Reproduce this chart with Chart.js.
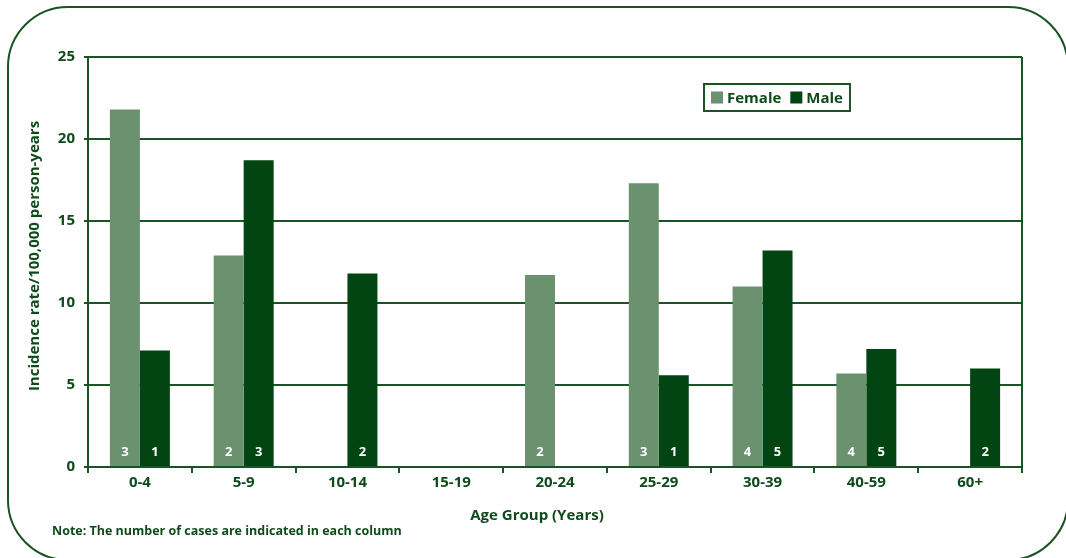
<!DOCTYPE html>
<html>
<head>
<meta charset="utf-8">
<script src="https://cdn.jsdelivr.net/npm/chart.js@4.4.1/dist/chart.umd.min.js"></script>
<style>
  html, body { margin: 0; padding: 0; background: #fff; }
  #wrap { width: 1066px; height: 558px; }
</style>
</head>
<body>
<div id="wrap"><canvas id="incidence" width="1066" height="558"></canvas></div>
<script>
const ageGroups = ['0-4', '5-9', '10-14', '15-19', '20-24', '25-29', '30-39', '40-59', '60+'];
const femaleRates = [21.8, 12.9, null, null, 11.7, 17.3, 11.0, 5.7, null];
const maleRates = [7.1, 18.7, 11.8, null, null, 5.6, 13.2, 7.2, 6.0];
const femaleCases = [3, 2, null, null, 2, 3, 4, 4, null];
const maleCases = [1, 3, 2, null, null, 1, 5, 5, 2];
const yTicks = [0, 5, 10, 15, 20, 25];

const FONT = "'Open Sans', 'Noto Sans', sans-serif";
const INK = '#0e4b1b';
const LINE = '#1b5424';
const FEMALE = '#6a926e';
const MALE = '#024512';

// rounded outer frame, right border of the plot, titles and footnote
const decorations = {
    id: 'decorations',
    beforeDraw(chart) {
        const ctx = chart.ctx;
        ctx.save();
        ctx.strokeStyle = LINE;
        ctx.lineWidth = 2;
        ctx.beginPath();
        ctx.roundRect(8, 7, 1060, 553, 60);
        ctx.stroke();
        ctx.restore();
    },
    afterDraw(chart) {
        const ctx = chart.ctx;
        const area = chart.chartArea;
        ctx.save();
        ctx.strokeStyle = LINE;
        ctx.lineWidth = 2;
        ctx.beginPath();
        ctx.moveTo(area.right, area.top);
        ctx.lineTo(area.right, area.bottom + 6);
        ctx.stroke();

        ctx.fillStyle = INK;
        ctx.textAlign = 'center';
        ctx.textBaseline = 'middle';
        ctx.font = 'bold 15px ' + FONT;
        ctx.fillText('Age Group (Years)', 537, 516);

        ctx.save();
        ctx.translate(35, 256);
        ctx.rotate(-Math.PI / 2);
        ctx.fillText('Incidence rate/100,000 person-years', 0, 0);
        ctx.restore();

        ctx.textAlign = 'left';
        ctx.font = 'bold 12.5px ' + FONT;
        ctx.fillText('Note: The number of cases are indicated in each column', 52, 531);
        ctx.restore();
    }
};

// case counts written near the foot of each bar
const caseLabels = {
    id: 'caseLabels',
    afterDatasetsDraw(chart) {
        const ctx = chart.ctx;
        const counts = [femaleCases, maleCases];
        ctx.save();
        ctx.fillStyle = '#ffffff';
        ctx.font = 'bold 13px ' + FONT;
        ctx.textAlign = 'center';
        ctx.textBaseline = 'middle';
        chart.data.datasets.forEach((ds, i) => {
            chart.getDatasetMeta(i).data.forEach((bar, j) => {
                const n = counts[i][j];
                if (n == null || ds.data[j] == null) return;
                ctx.fillText(String(n), bar.x, chart.chartArea.bottom - 15);
            });
        });
        ctx.restore();
    }
};

// boxed legend inside the plot area
const boxLegend = {
    id: 'boxLegend',
    afterDraw(chart) {
        const ctx = chart.ctx;
        const x0 = 704, y0 = 84, h = 27, sw = 12;
        ctx.save();
        ctx.font = 'bold 15px ' + FONT;
        ctx.textBaseline = 'middle';
        let x = x0 + 7;
        const items = chart.data.datasets.map(ds => ({ label: ds.label, color: ds.backgroundColor }));
        const parts = [];
        items.forEach(it => {
            parts.push({ x, it });
            x += sw + 4 + ctx.measureText(it.label).width + 9;
        });
        const w = x - 9 + 7 - x0;
        ctx.fillStyle = '#fff';
        ctx.fillRect(x0, y0, w, h);
        ctx.strokeStyle = LINE;
        ctx.lineWidth = 2;
        ctx.strokeRect(x0, y0, w, h);
        parts.forEach(p => {
            ctx.fillStyle = p.it.color;
            ctx.fillRect(p.x, y0 + h / 2 - sw / 2, sw, sw);
            ctx.fillStyle = INK;
            ctx.fillText(p.it.label, p.x + sw + 4, y0 + h / 2 + 1);
        });
        ctx.restore();
    }
};

new Chart(document.getElementById('incidence'), {
    type: 'bar',
    data: {
        labels: ageGroups,
        datasets: [
            { label: 'Female', data: femaleRates, backgroundColor: FEMALE },
            { label: 'Male', data: maleRates, backgroundColor: MALE }
        ]
    },
    options: {
        responsive: false,
        animation: false,
        events: [],
        layout: { padding: { left: 0, top: 57, right: 44, bottom: 0 } },
        datasets: { bar: { categoryPercentage: 0.578, barPercentage: 1.0 } },
        plugins: { legend: { display: false }, tooltip: { enabled: false } },
        scales: {
            x: {
                afterFit(scale) { scale.height = 91; },
                grid: { offset: true, drawOnChartArea: false, drawTicks: true, tickLength: 6, color: LINE, lineWidth: 2 },
                border: { display: true, color: LINE, width: 2 },
                ticks: { color: INK, padding: 1, font: { family: FONT, size: 15, weight: 'bold' } }
            },
            y: {
                min: 0,
                max: 25,
                afterFit(scale) { scale.width = 88; },
                afterBuildTicks(scale) { scale.ticks = yTicks.map(v => ({ value: v })); },
                grid: { color: LINE, lineWidth: 2, drawTicks: true, tickLength: 4 },
                border: { display: true, color: LINE, width: 2 },
                ticks: { color: INK, padding: 9, font: { family: FONT, size: 15, weight: 'bold' } }
            }
        }
    },
    plugins: [decorations, caseLabels, boxLegend]
});
</script>
</body>
</html>
